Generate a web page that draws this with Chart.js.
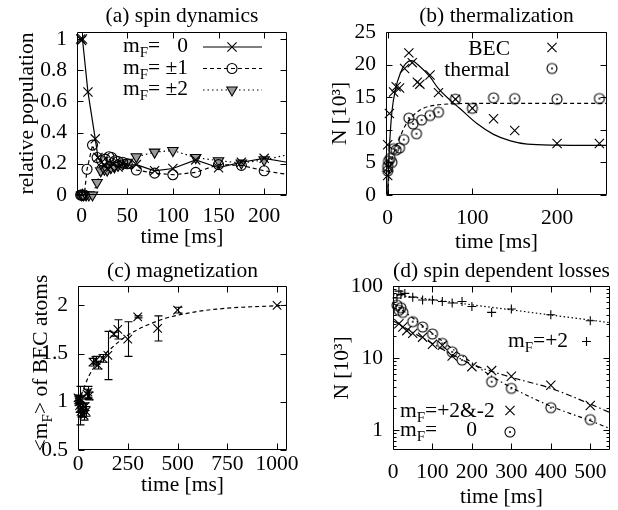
<!DOCTYPE html>
<html lang="en">
<head>
<meta charset="UTF-8">
<title>Spin dynamics panels</title>
<script src="https://cdn.jsdelivr.net/npm/chart.js"></script>
<style>
    * { margin: 0; padding: 0; box-sizing: border-box; }
    body { background: #fff; width: 618px; height: 510px; position: relative; overflow: hidden; }
    canvas { position: absolute; }
    #panel-a { left: 0; top: 0; }
    #panel-b { left: 309px; top: 0; }
    #panel-c { left: 0; top: 255px; }
    #panel-d { left: 309px; top: 255px; }
</style>
</head>
<body>
<canvas id="panel-a" width="309" height="255"></canvas>
<canvas id="panel-b" width="309" height="255"></canvas>
<canvas id="panel-c" width="309" height="255"></canvas>
<canvas id="panel-d" width="309" height="255"></canvas>

<script>
// (a) spin dynamics: relative population per m_F
const timeA0 = [-1, 0, 1, 7, 15, 18, 22, 25, 28, 32, 35, 40, 45, 50, 60, 80, 100, 125, 150, 175, 200, 250];
const popA0  = [1.0, 0.99, 1.0, 0.66, 0.36, 0.24, 0.21, 0.19, 0.17, 0.18, 0.2, 0.18, 0.2, 0.19, 0.195, 0.155, 0.17, 0.225, 0.175, 0.21, 0.235, 0.185];
const timeA1 = [-1, 0, 1, 3, 6, 12, 17, 22, 26, 30, 33, 37, 40, 45, 50, 60, 80, 100, 125, 150, 175, 200, 250];
const popA1  = [0, 0, 0, 0, 0.165, 0.32, 0.24, 0.22, 0.23, 0.245, 0.24, 0.22, 0.215, 0.21, 0.2, 0.16, 0.14, 0.13, 0.145, 0.195, 0.19, 0.155, 0.11];
const timeA2 = [0, 2, 5, 8, 12, 17, 21, 25, 28, 32, 36, 40, 45, 50, 60, 80, 100, 125, 150, 175, 200, 250];
const popA2  = [0, 0, 0, 0, 0, 0.08, 0.155, 0.165, 0.16, 0.175, 0.18, 0.19, 0.2, 0.21, 0.245, 0.275, 0.285, 0.24, 0.22, 0.205, 0.225, 0.29];
const xTicksA = [0, 50, 100, 150, 200];
const yTicksA = [0, 0.2, 0.4, 0.6, 0.8, 1];

// (b) thermalization
const timeBec = [0, 0, 1, 2, 7, 10, 14, 20, 25, 29, 35, 38, 50, 60, 80, 100, 125, 150, 200, 250];
const numBec  = [3.0, 7.7, 4.3, 12.5, 15.8, 16.6, 16.4, 19.4, 21.8, 20.3, 17.3, 17.0, 18.4, 15.7, 14.7, 13.3, 11.7, 9.9, 7.9, 7.9];
const timeTh  = [0, 0, 1, 3, 5, 7, 10, 14, 19, 25, 30, 34, 40, 50, 60, 80, 100, 125, 150, 200, 250];
const numTh   = [3.7, 4.4, 5.2, 5.6, 5.0, 7.1, 6.9, 7.2, 8.5, 11.8, 10.9, 9.4, 11.5, 12.2, 12.7, 14.7, 13.3, 14.9, 14.8, 14.7, 14.8];
const timeBecFit = [0, 1, 2.5, 5, 9, 15, 21, 28, 38, 50, 60, 75, 85, 105, 125, 145, 165, 200, 260];
const numBecFit  = [0, 4.5, 8.4, 12.8, 16.1, 18.7, 20.1, 20.6, 19.7, 18.1, 16.3, 14.4, 13.3, 11.0, 9.3, 8.3, 7.8, 7.65, 7.6];
const timeThFit  = [0, 1, 3, 7, 13, 21, 31, 42, 58, 80, 110, 260];
const numThFit   = [0, 2.2, 4.3, 6.4, 8.4, 10.7, 12.3, 13.3, 13.8, 14.0, 14.05, 14.05];
const xTicksB = [0, 100, 200];
const yTicksB = [0, 5, 10, 15, 20, 25];

// (c) magnetization
const timeMag = [0, 3, 5, 8, 10, 12, 15, 20, 25, 30, 35, 40, 45, 50, 55, 75, 90, 100, 125, 150, 180, 200, 250, 300, 400, 500, 1000];
const magVal  = [1.04, 1.02, 1.0, 0.96, 0.93, 1.03, 0.9, 0.88, 0.93, 0.86, 0.95, 0.9, 1.08, 1.1, 1.06, 1.41, 1.43, 1.38, 1.45, 1.48, 1.70, 1.75, 1.65, 1.88, 1.76, 1.95, 2.0];
const magErr  = [0.03, 0.03, 0.02, 0.2, 0.04, 0.03, 0.05, 0.04, 0.05, 0.05, 0.04, 0.05, 0.05, 0.06, 0.04, 0.04, 0.04, 0.04, 0.04, 0.25, 0.02, 0.1, 0.18, 0.01, 0.13, 0.03, 0];
const timeMagFit = [0, 20, 53, 103, 170, 250, 417, 583, 750, 1000, 1050];
const magFit     = [1.0, 1.09, 1.26, 1.42, 1.56, 1.69, 1.85, 1.93, 1.97, 1.995, 2.0];
const xTicksC = [0, 250, 500, 750, 1000];
const yTicksC = [0.5, 1, 1.5, 2];

// (d) spin dependent losses
const timePlus = [10, 15, 20, 30, 50, 75, 100, 125, 150, 175, 200, 250, 300, 400, 500];
const numPlus  = [68, 85, 76, 79, 70, 64, 64, 61, 58, 61, 52, 43, 48, 40, 33];
const timePM   = [15, 25, 35, 50, 75, 100, 125, 150, 200, 250, 300, 400, 500];
const numPM    = [30, 27, 24, 22, 19.5, 15.5, 15, 10.7, 7.6, 6.7, 5.6, 4.2, 2.2];
const timeZero = [10, 15, 20, 25, 50, 75, 100, 125, 150, 175, 250, 300, 400, 500];
const numZero  = [54, 46, 50, 43, 32, 27, 21.6, 16, 12.2, 9.4, 4.7, 3.8, 2.05, 1.4];
const timePlusFit = [0, 550];
const numPlusFit  = [76, 31];
const timePMFit   = [0, 75, 150, 200, 300, 400, 500, 550];
const numPMFit    = [33, 19, 11.2, 8.2, 5.4, 3.8, 2.3, 1.75];
const timeZeroFit = [0, 50, 100, 150, 200, 250, 300, 400, 500, 550];
const numZeroFit  = [58, 36, 22, 13.5, 8.6, 5.6, 3.9, 2.15, 1.35, 1.05];
const xTicksD = [0, 100, 200, 300, 400, 500];
const yTicksD = [1, 10, 100];
const yMinorD = [0.6, 0.7, 0.8, 0.9, 2, 3, 4, 5, 6, 7, 8, 9, 20, 30, 40, 50, 60, 70, 80, 90];

const FONT = "'Liberation Serif', 'Times New Roman', serif";
const FS = 21.5;      // main text size
const FS_SUB = 15;    // subscript size
Chart.defaults.font.family = FONT;
Chart.defaults.font.size = FS;
Chart.defaults.color = '#000';

const CLIP = { left: 12, top: 12, right: 0, bottom: 12 };

function pts(xs, ys) {
    return xs.map((x, i) => ({ x: x, y: ys[i] }));
}

// circle with a dot in the middle (gnuplot style)
function dotCircle(r) {
    const c = document.createElement('canvas');
    const s = Math.ceil(2 * r + 4);
    c.width = s; c.height = s;
    const g = c.getContext('2d');
    g.strokeStyle = '#000';
    g.lineWidth = 1.1;
    g.beginPath(); g.arc(s / 2, s / 2, r, 0, 2 * Math.PI); g.stroke();
    g.fillStyle = '#000';
    g.beginPath(); g.arc(s / 2, s / 2, 1, 0, 2 * Math.PI); g.fill();
    return c;
}
const DOTC = dotCircle(5);

function markers(data, style, radius, extra) {
    return Object.assign({
        data: data, showLine: false, pointStyle: style, pointRadius: radius,
        pointBorderColor: '#000', pointBackgroundColor: 'rgba(0,0,0,0)',
        pointBorderWidth: 1.1, clip: CLIP
    }, extra || {});
}

function curve(data, dash, extra) {
    return Object.assign({
        data: data, showLine: true, pointRadius: 0, borderColor: '#000',
        borderWidth: 1.2, borderDash: dash, cubicInterpolationMode: 'monotone', clip: CLIP
    }, extra || {});
}

// text with subscripts: parts = [[text, 'sub'?], ...]
function drawRich(ctx, parts, x, y, align) {
    const setFont = p => { ctx.font = (p[1] === 'sub' ? FS_SUB : FS) + 'px ' + FONT; };
    const widths = parts.map(p => { setFont(p); return ctx.measureText(p[0]).width; });
    const total = widths.reduce((s, w) => s + w, 0);
    let cx = align === 'right' ? x - total : align === 'center' ? x - total / 2 : x;
    ctx.textAlign = 'left';
    ctx.textBaseline = 'alphabetic';
    parts.forEach((p, i) => {
        setFont(p);
        ctx.fillText(p[0], cx, y + (p[1] === 'sub' ? 5 : 0));
        cx += widths[i];
    });
}

function drawSymbol(ctx, ds, x, y) {
    ctx.save();
    ctx.setLineDash([]);
    ctx.strokeStyle = '#000';
    ctx.fillStyle = ds.pointBackgroundColor || 'rgba(0,0,0,0)';
    ctx.lineWidth = 1.1;
    Chart.helpers.drawPoint(ctx, {
        pointStyle: ds.pointStyle, radius: ds.pointRadius,
        rotation: ds.pointRotation || 0, borderWidth: 1.1
    }, x, y);
    ctx.restore();
}

// box with inward ticks on all four sides
function framePlugin(minorY) {
    return {
        id: 'frame',
        afterDatasetsDraw(chart) {
            const { ctx, chartArea: a, scales: { x, y } } = chart;
            const L = Math.round(a.left) + 0.5, R = Math.round(a.right) - 0.5;
            const T = Math.round(a.top) + 0.5, B = Math.round(a.bottom) - 0.5;
            ctx.save();
            ctx.setLineDash([]);
            ctx.strokeStyle = '#000';
            ctx.lineWidth = 1;
            ctx.beginPath();
            ctx.rect(L, T, R - L, B - T);
            x.ticks.forEach(t => {
                const px = Math.round(x.getPixelForValue(t.value)) + 0.5;
                ctx.moveTo(px, B); ctx.lineTo(px, B - 6);
                ctx.moveTo(px, T); ctx.lineTo(px, T + 6);
            });
            y.ticks.forEach(t => {
                const py = Math.round(y.getPixelForValue(t.value)) + 0.5;
                ctx.moveTo(L, py); ctx.lineTo(L + 6, py);
                ctx.moveTo(R, py); ctx.lineTo(R - 6, py);
            });
            minorY.forEach(v => {
                const py = Math.round(y.getPixelForValue(v)) + 0.5;
                ctx.moveTo(L, py); ctx.lineTo(L + 3, py);
                ctx.moveTo(R, py); ctx.lineTo(R - 3, py);
            });
            ctx.stroke();
            ctx.restore();
        }
    };
}

function panel(id, opt) {
    return new Chart(document.getElementById(id), {
        type: 'scatter',
        data: { datasets: opt.datasets },
        options: {
            responsive: false,
            animation: false,
            events: [],
            layout: { padding: { left: 0, top: 0, right: opt.padRight, bottom: 0 } },
            plugins: {
                legend: { display: false },
                tooltip: { enabled: false },
                title: {
                    display: true, text: opt.title, fullSize: false,
                    padding: { top: opt.titleTop, bottom: opt.titleBottom },
                    font: { size: FS, weight: 'normal' }, color: '#000'
                }
            },
            scales: {
                x: {
                    type: 'linear', min: opt.xMin, max: opt.xMax,
                    afterBuildTicks: s => { s.ticks = opt.xTicks.map(v => ({ value: v })); },
                    afterFit: s => { s.height = 60; },
                    grid: { display: false, drawTicks: false },
                    border: { display: false },
                    ticks: { padding: opt.xPad, maxRotation: 0, autoSkip: false, callback: v => String(v) },
                    title: { display: true, text: 'time [ms]', font: { size: FS }, padding: { top: 0, bottom: opt.xTitleBottom } }
                },
                y: {
                    type: opt.yType || 'linear', min: opt.yMin, max: opt.yMax,
                    afterBuildTicks: s => { s.ticks = opt.yTicks.map(v => ({ value: v })); },
                    afterFit: s => { s.width = opt.leftW; },
                    grid: { display: false, drawTicks: false },
                    border: { display: false },
                    ticks: { padding: 10, autoSkip: false, callback: v => String(v) },
                    title: opt.yTitle
                        ? { display: true, text: opt.yTitle, font: { size: FS }, padding: { top: opt.yTitleTop, bottom: 0 } }
                        : { display: false }
                }
            }
        },
        plugins: [framePlugin(opt.minorY || [])].concat(opt.extra || [])
    });
}

// ---------- (a) ----------
const dsA = [
    curve(pts(timeA0, popA0), [], { pointStyle: 'crossRot', pointRadius: 6.5, pointBorderColor: '#000', pointBorderWidth: 1.1, cubicInterpolationMode: 'default', tension: 0 }),
    curve(pts(timeA1, popA1), [4, 3], { pointStyle: 'circle', pointRadius: 5, pointBorderColor: '#000', pointBackgroundColor: 'rgba(0,0,0,0)', pointBorderWidth: 1.1, cubicInterpolationMode: 'default', tension: 0 }),
    curve(pts(timeA2, popA2), [1.5, 3], { pointStyle: 'triangle', pointRotation: 180, pointRadius: 6, pointBorderColor: '#000', pointBackgroundColor: '#9a9a9a', pointBorderWidth: 1.1, cubicInterpolationMode: 'default', tension: 0 })
];
const legendA = {
    id: 'legendA',
    afterDraw(chart) {
        const ctx = chart.ctx;
        const rows = [['0', 52], ['\u00b11', 73.5], ['\u00b12', 95]];
        ctx.save();
        ctx.fillStyle = '#000';
        rows.forEach((r, i) => {
            drawRich(ctx, [['m'], ['F', 'sub'], ['=']], 123, r[1], 'left');
            drawRich(ctx, [[r[0]]], 188, r[1], 'right');
            const ds = chart.data.datasets[i];
            ctx.save();
            ctx.strokeStyle = '#000';
            ctx.lineWidth = 1.2;
            ctx.setLineDash(ds.borderDash);
            ctx.beginPath();
            ctx.moveTo(203, r[1] - 5); ctx.lineTo(262, r[1] - 5);
            ctx.stroke();
            ctx.restore();
            drawSymbol(ctx, ds, 232, r[1] - 5);
        });
        ctx.restore();
    }
};
panel('panel-a', {
    datasets: dsA, title: '(a) spin dynamics', titleTop: 3, titleBottom: 3.2,
    xMin: -5, xMax: 225, xTicks: xTicksA, xPad: 8, xTitleBottom: 5,
    yMin: 0, yMax: 1.045, yTicks: yTicksA, leftW: 77, padRight: 22,
    yTitle: 'relative population', yTitleTop: 14, extra: [legendA]
});

// ---------- (b) ----------
const dsB = [
    markers(pts(timeBec, numBec), 'crossRot', 6.5),
    markers(pts(timeTh, numTh), DOTC, 5),
    curve(pts(timeBecFit, numBecFit), []),
    curve(pts(timeThFit, numThFit), [4, 3])
];
const legendB = {
    id: 'legendB',
    afterDraw(chart) {
        const ctx = chart.ctx;
        ctx.save();
        ctx.fillStyle = '#000';
        drawRich(ctx, [['BEC']], 201, 55, 'right');
        drawRich(ctx, [['thermal']], 201, 76, 'right');
        drawSymbol(ctx, chart.data.datasets[0], 243, 47.5);
        drawSymbol(ctx, chart.data.datasets[1], 243, 68.5);
        ctx.restore();
    }
};
panel('panel-b', {
    datasets: dsB, title: '(b) thermalization', titleTop: 3, titleBottom: 3.2,
    xMin: -2, xMax: 259, xTicks: xTicksB, xPad: 10, xTitleBottom: 0,
    yMin: 0, yMax: 25, yTicks: yTicksB, leftW: 77, padRight: 11,
    yTitle: 'N [10\u00b3]', yTitleTop: 18, extra: [legendB]
});

// ---------- (c) ----------
const dsC = [
    markers(pts(timeMag, magVal), 'crossRot', 6),
    curve(pts(timeMagFit, magFit), [4, 3])
];
const errorBarsC = {
    id: 'errorBarsC',
    afterDatasetsDraw(chart) {
        const { ctx, scales: { x, y } } = chart;
        ctx.save();
        ctx.strokeStyle = '#000';
        ctx.lineWidth = 1.1;
        ctx.beginPath();
        timeMag.forEach((t, i) => {
            if (!magErr[i]) return;
            const px = Math.round(x.getPixelForValue(t)) + 0.5;
            const y1 = y.getPixelForValue(magVal[i] - magErr[i]);
            const y2 = y.getPixelForValue(magVal[i] + magErr[i]);
            ctx.moveTo(px, y1); ctx.lineTo(px, y2);
            ctx.moveTo(px - 4, y1); ctx.lineTo(px + 4, y1);
            ctx.moveTo(px - 4, y2); ctx.lineTo(px + 4, y2);
        });
        ctx.stroke();
        // y title with subscript
        ctx.fillStyle = '#000';
        ctx.translate(47, 108);
        ctx.rotate(-Math.PI / 2);
        drawRich(ctx, [['<m'], ['F', 'sub'], ['> of BEC atoms']], 0, 0, 'center');
        ctx.restore();
    }
};
panel('panel-c', {
    datasets: dsC, title: '(c) magnetization', titleTop: 3, titleBottom: 2.2,
    xMin: 0, xMax: 1050, xTicks: xTicksC, xPad: 1, xTitleBottom: 12,
    yMin: 0.5, yMax: 2.2, yTicks: yTicksC, leftW: 78, padRight: 22,
    yTitle: null, extra: [errorBarsC]
});

// ---------- (d) ----------
const dsD = [
    markers(pts(timePlus, numPlus), 'cross', 4.5),
    markers(pts(timePM, numPM), 'crossRot', 6.5),
    markers(pts(timeZero, numZero), DOTC, 5),
    curve(pts(timePlusFit, numPlusFit), [1.5, 2.5], { cubicInterpolationMode: 'default', tension: 0 }),
    curve(pts(timePMFit, numPMFit), [6, 3, 1.5, 3]),
    curve(pts(timeZeroFit, numZeroFit), [4, 3, 1.5, 3])
];
const legendD = {
    id: 'legendD',
    afterDraw(chart) {
        const ctx = chart.ctx;
        ctx.save();
        ctx.fillStyle = '#000';
        drawRich(ctx, [['m'], ['F', 'sub'], ['=+2']], 199, 91.5, 'left');
        drawRich(ctx, [['m'], ['F', 'sub'], ['=+2&-2']], 91, 161.5, 'left');
        drawRich(ctx, [['m'], ['F', 'sub'], ['=']], 91, 180.5, 'left');
        drawRich(ctx, [['0']], 168, 180.5, 'right');
        drawSymbol(ctx, chart.data.datasets[0], 277.5, 86.5);
        drawSymbol(ctx, chart.data.datasets[1], 201, 155.5);
        drawSymbol(ctx, chart.data.datasets[2], 201, 177);
        ctx.restore();
    }
};
panel('panel-d', {
    datasets: dsD, title: '(d) spin dependent losses', titleTop: 3, titleBottom: 2.2,
    xMin: 0, xMax: 550, xTicks: xTicksD, xPad: 9, xTitleBottom: 0,
    yType: 'logarithmic', yMin: 0.53, yMax: 100, yTicks: yTicksD, minorY: yMinorD,
    leftW: 84, padRight: 8,
    yTitle: 'N [10\u00b3]', yTitleTop: 20, extra: [legendD]
});
</script>
</body>
</html>
